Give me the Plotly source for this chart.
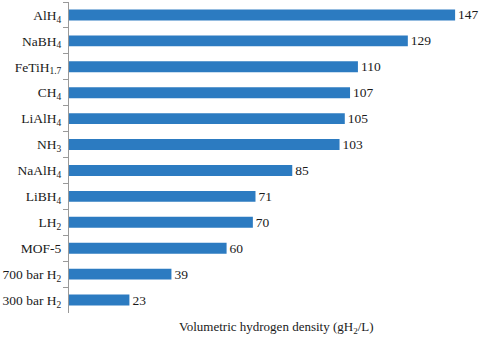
import plotly.graph_objects as go

categories = ["AlH<sub>4</sub>", "NaBH<sub>4</sub>", "FeTiH<sub>1.7</sub>", "CH<sub>4</sub>",
              "LiAlH<sub>4</sub>", "NH<sub>3</sub>", "NaAlH<sub>4</sub>", "LiBH<sub>4</sub>",
              "LH<sub>2</sub>", "MOF-5", "700 bar H<sub>2</sub>", "300 bar H<sub>2</sub>"]
values = [147, 129, 110, 107, 105, 103, 85, 71, 70, 60, 39, 23]
x_title = "Volumetric hydrogen density (gH<sub>2</sub>/L)"

font_family = "Liberation Serif, Times New Roman, serif"

fig = go.Figure(go.Bar(
    y=categories, x=values, orientation="h",
    marker=dict(color="#2C7BC1", line=dict(width=0)),
    width=0.42,
    text=[str(v) for v in values], textposition="outside",
    constraintext="none",
    textfont=dict(family=font_family, size=13.5, color="#1a1a1a"),
    cliponaxis=False,
))

fig.update_layout(
    width=484, height=337,
    margin=dict(l=69, r=0, t=2, b=24, autoexpand=False),
    plot_bgcolor="white", paper_bgcolor="white",
    showlegend=False,
    font=dict(family=font_family, size=13.5, color="#1a1a1a"),
    xaxis=dict(range=[0, 158], showgrid=False, zeroline=False, showline=False,
               showticklabels=False, ticks="", automargin=False),
    yaxis=dict(autorange="reversed", showline=True, linecolor="#999", linewidth=1,
               ticks="outside", tickson="boundaries", ticklen=5, tickcolor="#999",
               automargin=False, ticklabelstandoff=4,
               showgrid=False, tickfont=dict(family=font_family, size=13.5, color="#1a1a1a")),
    annotations=[dict(text=x_title, xref="paper", yref="paper", x=0.5, y=0,
                      yshift=-14, yanchor="middle", showarrow=False,
                      font=dict(family=font_family, size=13, color="#1a1a1a"))],
)

fig.write_html("out.html", config={"displayModeBar": False},
               post_script="document.body.style.margin='0';document.body.style.overflow='hidden';")
